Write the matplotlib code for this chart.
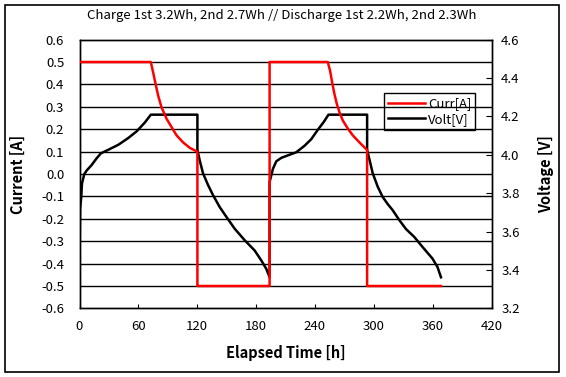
import matplotlib
matplotlib.use("Agg")
import matplotlib.pyplot as plt
from matplotlib.patches import Rectangle

plt.rcParams['font.family'] = ['Noto Sans CJK KR', 'DejaVu Sans']

title = "Charge 1st 3.2Wh, 2nd 2.7Wh // Discharge 1st 2.2Wh, 2nd 2.3Wh"

# Current [A]
curr_t = [0, 72.7, 75.1, 77.8, 80.2, 83.6, 88.7, 93.8, 98.9, 105.6, 112.4, 120.2, 120.2,
          193.8, 193.8, 253.1, 255.5, 257.6, 259.9, 262.3, 265.0, 268.4, 273.5, 278.5,
          285.4, 293.2, 293.2, 368.5]
curr_a = [0.5, 0.5, 0.453, 0.397, 0.350, 0.298, 0.247, 0.210, 0.173, 0.141, 0.117, 0.099, -0.5,
          -0.5, 0.5, 0.5, 0.460, 0.408, 0.357, 0.313, 0.276, 0.239, 0.203, 0.173,
          0.141, 0.107, -0.5, -0.5]

# Voltage [V]
volt_t = [0, 0.6, 1.8, 2.5, 4.9, 7.3, 12.4, 17.5, 21.9, 29.3, 39.5, 49.6, 58.2, 66.6,
          72.7, 120.2, 120.2, 122.6, 125.9, 131.0, 136.1, 142.9, 149.7, 158.2, 168.4,
          178.5, 185.3, 190.4, 193.8, 193.8, 197.2, 200.6, 205.7, 212.4, 220.9, 229.4,
          236.2, 242.9, 249.0, 253.8, 293.2, 293.2, 296.5, 298.9, 304.0, 309.0, 314.1,
          319.2, 326.0, 332.9, 341.3, 349.7, 359.9, 365.0, 368.5]
volt_v = [3.406, 3.72, 3.78, 3.85, 3.90, 3.918, 3.947, 3.982, 4.008, 4.026, 4.052, 4.087,
          4.122, 4.168, 4.209, 4.209, 4.026, 3.970, 3.904, 3.843, 3.790, 3.728, 3.677,
          3.615, 3.555, 3.502, 3.450, 3.406, 3.362, 3.859, 3.927, 3.966, 3.984, 3.997,
          4.013, 4.047, 4.081, 4.130, 4.171, 4.209, 4.209, 4.026, 3.956, 3.904, 3.834,
          3.781, 3.744, 3.712, 3.660, 3.613, 3.572, 3.520, 3.459, 3.415, 3.362]

x_ticks = [0, 60, 120, 180, 240, 300, 360, 420]
curr_ticks = [-0.6, -0.5, -0.4, -0.3, -0.2, -0.1, 0.0, 0.1, 0.2, 0.3, 0.4, 0.5, 0.6]
volt_ticks = [3.2, 3.4, 3.6, 3.8, 4.0, 4.2, 4.4, 4.6]

fig = plt.figure(figsize=(5.66, 3.77), dpi=100)
fig.patches.append(Rectangle((5/566, 1-372/377), 554/566, 367/377, transform=fig.transFigure,
                             fill=False, edgecolor='black', linewidth=1.2))
ax = fig.add_axes([79.5/566, 1-308.4/377, 412/566, 268.8/377])
ax2 = ax.twinx()

for y in curr_ticks[1:-1]:
    ax.axhline(y, color='black', linewidth=1.0, zorder=1)

l1, = ax.plot(curr_t, curr_a, color='#ff0000', linewidth=1.8, label='Curr[A]', zorder=3)
l2, = ax2.plot(volt_t, volt_v, color='black', linewidth=1.8, label='Volt[V]', zorder=3)

ax.set_xlim(0, 420)
ax.set_ylim(-0.6, 0.6)
ax2.set_ylim(3.2, 4.6)
ax.set_xticks(x_ticks)
ax.set_yticks(curr_ticks)
ax.set_yticklabels([f"{v:.1f}" for v in curr_ticks])
ax2.set_yticks(volt_ticks)
ax2.set_yticklabels([f"{v:.1f}" for v in volt_ticks])

ax.tick_params(axis='x', direction='in', length=3, labelsize=9.5, pad=8)
ax.tick_params(axis='y', direction='in', length=0, labelsize=9.5, pad=11)
ax2.tick_params(axis='y', direction='in', length=4, labelsize=9.5, pad=7)

for a in (ax, ax2):
    for s in a.spines.values():
        s.set_color('black')
        s.set_linewidth(1.0)

ax.set_xlabel('Elapsed Time [h]', fontsize=10.5, fontweight='bold')
ax.set_ylabel('Current [A]', fontsize=10.5, fontweight='bold')
ax2.set_ylabel('Voltage [V]', fontsize=10.5, fontweight='bold')
ax.xaxis.set_label_coords(0.5, (308.4-345)/268.8)
ax.yaxis.set_label_coords((26-79.5)/412, 0.5)
ax2.yaxis.set_label_coords((538-79.5)/412, 0.5)

fig.text(282/566, 1-16/377, title, ha='center', va='center', fontsize=9.5)

leg = ax.legend([l1, l2], ['Curr[A]', 'Volt[V]'], loc='upper left',
                bbox_to_anchor=(0.74, 0.80), fontsize=9.5, frameon=True, fancybox=False,
                edgecolor='black', framealpha=1, borderpad=0.3, handlelength=2.8,
                handletextpad=0.2, labelspacing=0.2, borderaxespad=0)
leg.get_frame().set_linewidth(1.0)
leg.set_zorder(10)
ax.set_zorder(ax2.get_zorder() + 1)
ax.patch.set_visible(False)
ax2.patch.set_visible(True)
ax2.patch.set_facecolor('white')
leg.remove()
ax2.add_artist(leg)

fig.savefig('out.png', dpi=100)
